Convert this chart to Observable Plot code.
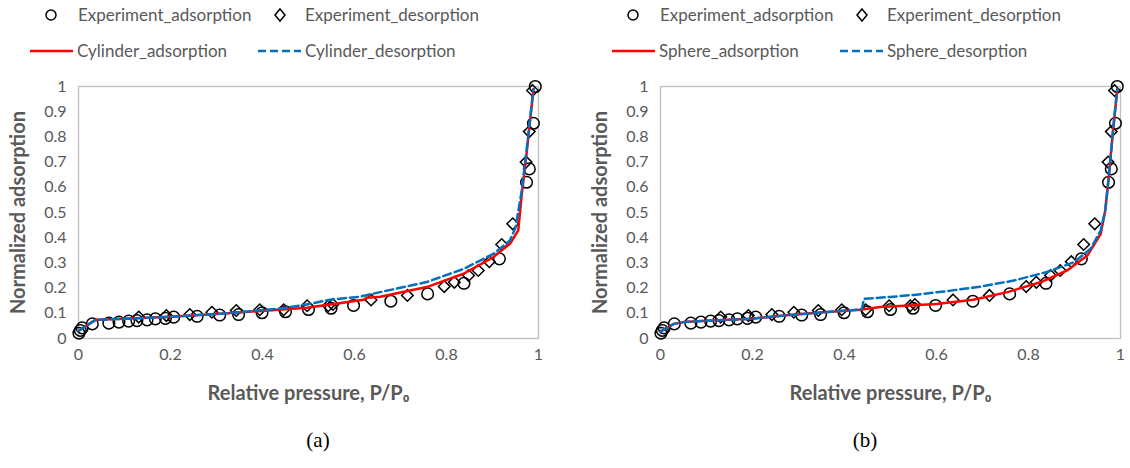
<!DOCTYPE html>
<html>
<head>
<meta charset="utf-8">
<script src="https://cdn.jsdelivr.net/npm/d3@7"></script>
<script src="https://cdn.jsdelivr.net/npm/@observablehq/plot@0.6"></script>
<style>
  body { margin: 0; background: #fff; width: 1130px; height: 468px; position: relative; overflow: hidden; font-family: Lato, "Open Sans", sans-serif; }
  .panel { position: absolute; top: 70px; }
  .leg { position: absolute; font-size: 17px; color: #595959; white-space: nowrap; line-height: 20px; }
  .leg svg { position: absolute; }
  .cap { position: absolute; top: 428px; font-family: "Liberation Serif", serif; font-size: 21px; color: #000; transform: translateX(-50%); }
</style>
</head>
<body>
<div id="root"></div>
<script>
// ---- data ----
const xTicks = [0, 0.2, 0.4, 0.6, 0.8, 1];
const yTicks = [0, 0.1, 0.2, 0.3, 0.4, 0.5, 0.6, 0.7, 0.8, 0.9, 1];

const expAdsX = [0.001, 0.004, 0.008, 0.03, 0.066, 0.088, 0.109, 0.127, 0.149, 0.167, 0.189, 0.207, 0.258, 0.307, 0.348, 0.399, 0.45, 0.5, 0.549, 0.598, 0.679, 0.759, 0.838, 0.915, 0.974, 0.98, 0.989, 0.993];
const expAdsY = [0.021, 0.032, 0.042, 0.058, 0.061, 0.065, 0.069, 0.071, 0.074, 0.078, 0.08, 0.085, 0.088, 0.093, 0.095, 0.102, 0.106, 0.115, 0.12, 0.131, 0.148, 0.177, 0.219, 0.316, 0.62, 0.673, 0.854, 1.0];

const expDesX = [0.131, 0.191, 0.242, 0.29, 0.343, 0.394, 0.446, 0.497, 0.543, 0.553, 0.636, 0.715, 0.795, 0.817, 0.848, 0.869, 0.893, 0.92, 0.944, 0.973, 0.98, 0.987];
const expDesY = [0.085, 0.091, 0.095, 0.104, 0.111, 0.114, 0.114, 0.13, 0.13, 0.135, 0.153, 0.171, 0.206, 0.223, 0.25, 0.27, 0.305, 0.373, 0.455, 0.7, 0.821, 0.984];

const cylAdsX = [0, 0.008, 0.037, 0.1, 0.2, 0.308, 0.435, 0.496, 0.547, 0.62, 0.627, 0.656, 0.757, 0.837, 0.902, 0.938, 0.956, 0.963, 0.974, 0.989];
const cylAdsY = [0.03, 0.04, 0.074, 0.078, 0.086, 0.098, 0.114, 0.122, 0.135, 0.154, 0.162, 0.166, 0.204, 0.257, 0.323, 0.376, 0.429, 0.561, 0.733, 0.99];

const cylDesX = [0, 0.008, 0.037, 0.1, 0.2, 0.308, 0.435, 0.496, 0.547, 0.612, 0.656, 0.757, 0.837, 0.902, 0.938, 0.95, 0.963, 0.974, 0.989];
const cylDesY = [0.03, 0.04, 0.074, 0.078, 0.086, 0.098, 0.118, 0.135, 0.154, 0.166, 0.184, 0.224, 0.276, 0.336, 0.389, 0.44, 0.58, 0.745, 0.99];

const sphAdsX = [0, 0.004, 0.029, 0.05, 0.1, 0.196, 0.268, 0.355, 0.435, 0.478, 0.55, 0.6, 0.68, 0.754, 0.826, 0.884, 0.928, 0.957, 0.967, 0.975, 0.984, 0.993];
const sphAdsY = [0.025, 0.032, 0.058, 0.065, 0.07, 0.078, 0.091, 0.104, 0.114, 0.125, 0.132, 0.137, 0.154, 0.184, 0.223, 0.27, 0.329, 0.415, 0.51, 0.65, 0.83, 0.99];

const sphDesX = [0, 0.004, 0.029, 0.05, 0.1, 0.196, 0.268, 0.355, 0.438, 0.442, 0.5, 0.551, 0.623, 0.696, 0.768, 0.84, 0.899, 0.935, 0.957, 0.967, 0.975, 0.984, 0.993];
const sphDesY = [0.025, 0.032, 0.058, 0.065, 0.07, 0.078, 0.091, 0.104, 0.116, 0.157, 0.165, 0.173, 0.188, 0.206, 0.23, 0.264, 0.303, 0.356, 0.429, 0.51, 0.65, 0.83, 0.99];

const panels = [
  {left: 0, width: 565, mr: 27, name: "Cylinder", caption: "(a)", capX: 318, adsX: cylAdsX, adsY: cylAdsY, desX: cylDesX, desY: cylDesY},
  {left: 582, width: 548, mr: 10, name: "Sphere", caption: "(b)", capX: 865, adsX: sphAdsX, adsY: sphAdsY, desX: sphDesX, desY: sphDesY}
];

const zip = (xs, ys) => xs.map((x, i) => ({x, y: ys[i]}));
const fmt = d => String(+d.toFixed(1));
const root = document.getElementById("root");
const RED = "#ff0000", BLUE = "#0070c0", GRAY = "#595959";

function legendItem(left, top, markerSvg, label, textLeft) {
  const d = document.createElement("div");
  d.className = "leg";
  d.style.left = left + "px";
  d.style.top = top + "px";
  d.innerHTML = markerSvg;
  const s = document.createElement("span");
  s.style.position = "absolute";
  s.style.left = (textLeft - left) + "px";
  s.style.top = "0px";
  s.textContent = label;
  d.appendChild(s);
  root.appendChild(d);
}

for (const p of panels) {
  const L = p.left;
  legendItem(L + 44, 5, `<svg width="14" height="20" style="left:0;top:0"><circle cx="7" cy="10" r="5" fill="none" stroke="#000" stroke-width="1.5"/></svg>`, "Experiment_adsorption", L + 78);
  legendItem(L + 273, 5, `<svg width="14" height="20" style="left:0;top:0"><path d="M7,4 L12,10 L7,16 L2,10 Z" fill="none" stroke="#000" stroke-width="1.5"/></svg>`, "Experiment_desorption", L + 305);
  legendItem(L + 30, 41, `<svg width="44" height="20" style="left:0;top:0"><line x1="0" y1="10" x2="43" y2="10" stroke="${RED}" stroke-width="2.5"/></svg>`, p.name + "_adsorption", L + 77);
  legendItem(L + 258, 41, `<svg width="44" height="20" style="left:0;top:0"><line x1="0" y1="10" x2="43" y2="10" stroke="${BLUE}" stroke-width="2.5" stroke-dasharray="8,4"/></svg>`, p.name + "_desorption", L + 305);

  const chart = Plot.plot({
    width: p.width,
    height: 350,
    marginTop: 16,
    marginBottom: 82,
    marginLeft: 78,
    marginRight: p.mr,
    style: {fontFamily: "Lato, 'Open Sans', sans-serif", fontSize: "16px", color: GRAY, background: "transparent", overflow: "visible"},
    x: {domain: [0, 1], ticks: xTicks, tickFormat: fmt, tickSize: 0, tickPadding: 10, label: null},
    y: {domain: [0, 1], ticks: yTicks, tickFormat: fmt, tickSize: 0, tickPadding: 12, label: null},
    marks: [
      Plot.frame({stroke: "#bfbfbf", strokeWidth: 1.3}),
      Plot.dot(zip(expAdsX, expAdsY), {x: "x", y: "y", symbol: "circle", r: 5.8, stroke: "#000", strokeWidth: 1.5, fill: "none"}),
      Plot.dot(zip(expDesX, expDesY), {x: "x", y: "y", symbol: "diamond2", r: 5.2, stroke: "#000", strokeWidth: 1.5, fill: "none"}),
      Plot.line(zip(p.adsX, p.adsY), {x: "x", y: "y", stroke: RED, strokeWidth: 2.5}),
      Plot.line(zip(p.desX, p.desY), {x: "x", y: "y", stroke: BLUE, strokeWidth: 2.5, strokeDasharray: "8,4"}),
      Plot.text(["Relative pressure, P/P\u2080"], {frameAnchor: "bottom", dy: 61, fontSize: 20, fontWeight: "bold", fill: GRAY}),
      Plot.text(["Normalized adsorption"], {frameAnchor: "left", rotate: -90, textAnchor: "middle", dx: -60, fontSize: 20, fontWeight: "bold", fill: GRAY})
    ]
  });
  const wrap = document.createElement("div");
  wrap.className = "panel";
  wrap.style.left = p.left + "px";
  wrap.appendChild(chart);
  root.appendChild(wrap);

  const cap = document.createElement("div");
  cap.className = "cap";
  cap.style.left = p.capX + "px";
  cap.textContent = p.caption;
  root.appendChild(cap);
}
</script>
</body>
</html>
